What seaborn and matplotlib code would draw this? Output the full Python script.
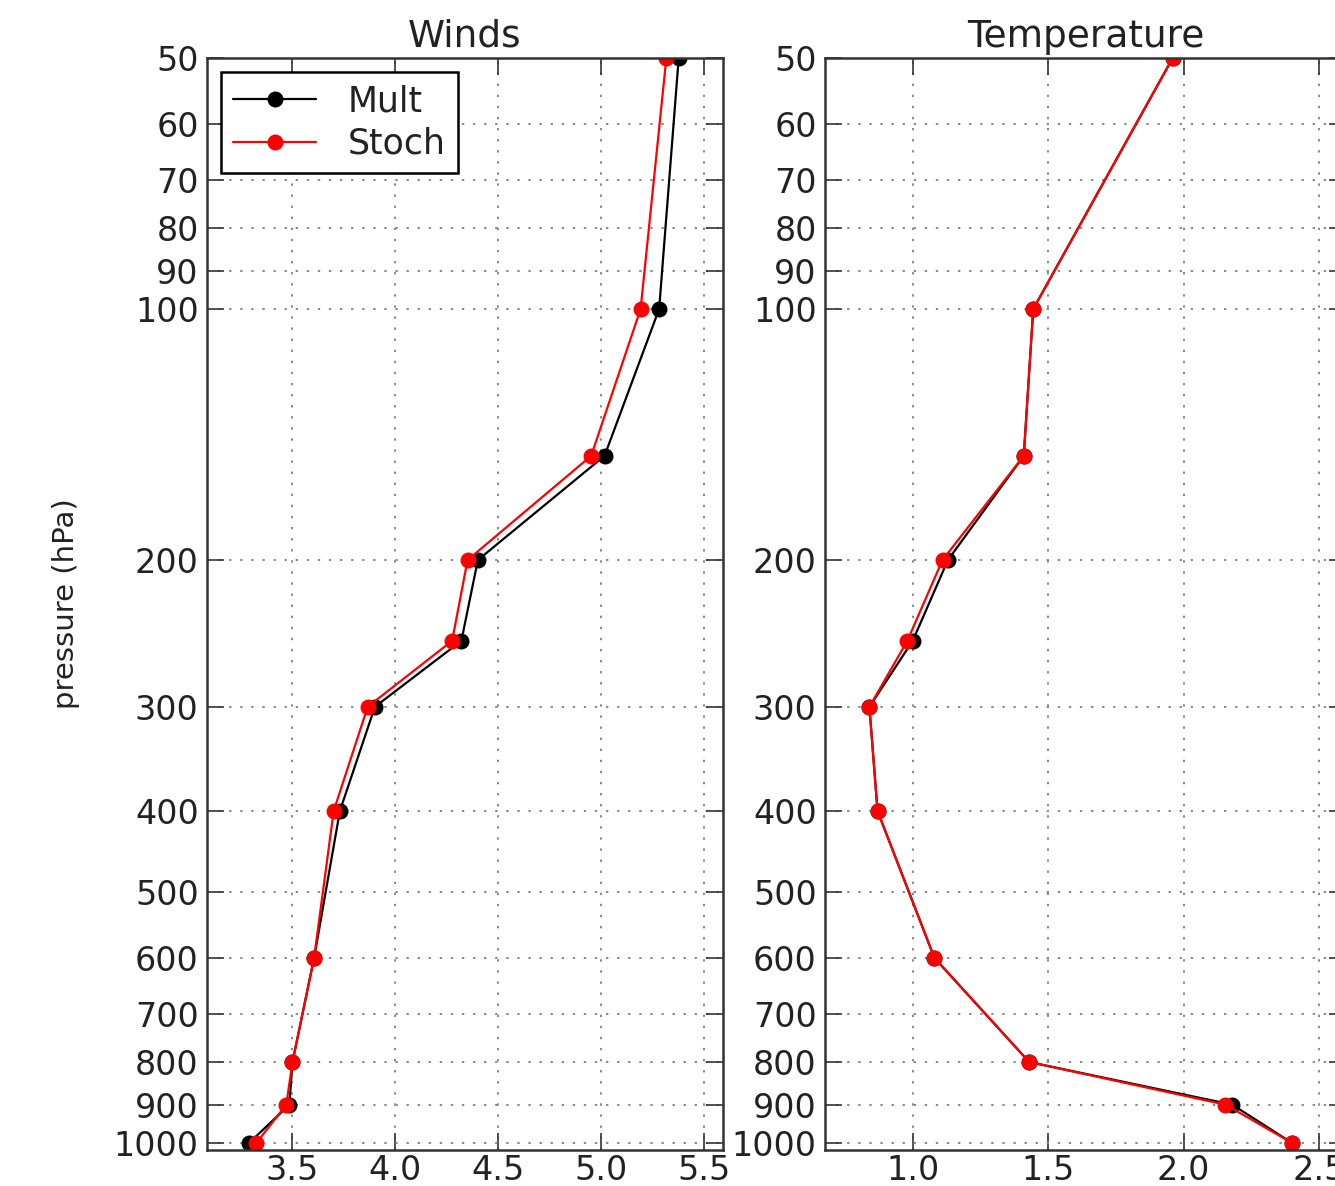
import matplotlib
matplotlib.use("Agg")
import matplotlib.pyplot as plt
from matplotlib.lines import Line2D
from matplotlib.ticker import FixedLocator, FixedFormatter, NullLocator
import seaborn as sns
import pandas as pd

sns.set_style("white")
plt.rcParams["font.family"] = ["DejaVu Sans"]

# pressure levels (hPa)
LEVELS = [50, 100, 150, 200, 250, 300, 400, 600, 800, 900, 1000]

# Winds
wind_mult = [5.375, 5.28, 5.015, 4.40, 4.32, 3.90, 3.73, 3.605, 3.50, 3.485, 3.29]
wind_stoch = [5.315, 5.19, 4.95, 4.35, 4.275, 3.865, 3.70, 3.605, 3.50, 3.47, 3.325]

# Temperature
temp_mult = [1.96, 1.445, 1.41, 1.13, 1.00, 0.84, 0.87, 1.08, 1.43, 2.18, 2.40]
temp_stoch = [1.96, 1.445, 1.41, 1.11, 0.98, 0.84, 0.87, 1.08, 1.43, 2.155, 2.40]

YTICKS = [50, 60, 70, 80, 90, 100, 200, 300, 400, 500, 600, 700, 800, 900, 1000]
RUNS = ["Mult", "Stoch"]
COLORS = {"Mult": "black", "Stoch": "red"}


def _frame(mult, stoch):
    return pd.DataFrame({
        "pressure": LEVELS * 2,
        "value": list(mult) + list(stoch),
        "run": ["Mult"] * len(LEVELS) + ["Stoch"] * len(LEVELS),
    })


def _panel(ax, df, title, xlim, xticks):
    sns.lineplot(
        data=df, x="value", y="pressure", hue="run", hue_order=RUNS,
        palette=COLORS, marker="o", markersize=11.5, markeredgewidth=0,
        lw=1.6, orient="y", sort=False, legend=False, ax=ax,
    )
    ax.set_yscale("log")
    ax.set_ylim(1020, 50)
    ax.set_xlim(*xlim)
    ax.yaxis.set_major_locator(FixedLocator(YTICKS))
    ax.yaxis.set_major_formatter(FixedFormatter([str(t) for t in YTICKS]))
    ax.yaxis.set_minor_locator(NullLocator())
    ax.set_xticks(xticks)
    ax.set_xticklabels([f"{t:.1f}" for t in xticks])
    ax.tick_params(direction="in", length=12, width=1.2, labelsize=24,
                   top=True, right=True, bottom=True, left=True, pad=6,
                   colors="#333333", labelcolor="#222222")
    ax.tick_params(axis="x", pad=3)
    ax.grid(True, linestyle=(0, (1.2, 4.5)), color="#888888", lw=1.4)
    for s in ax.spines.values():
        s.set_color("#333333")
        s.set_linewidth(1.8)
    ax.set_title(title, fontsize=27, pad=8, color="#222222")
    ax.set_xlabel("")
    ax.set_ylabel("")


fig = plt.figure(figsize=(13.35, 11.86), dpi=100)
bottom = 36 / 1186
height = (1150 - 58) / 1186
ax1 = fig.add_axes([207 / 1335, bottom, (723 - 207) / 1335, height])
ax2 = fig.add_axes([825 / 1335, bottom, (1346 - 825) / 1335, height])

_panel(ax1, _frame(wind_mult, wind_stoch), "Winds", (3.085, 5.59),
       [3.5, 4.0, 4.5, 5.0, 5.5])
_panel(ax2, _frame(temp_mult, temp_stoch), "Temperature", (0.676, 2.6),
       [1.0, 1.5, 2.0, 2.5])

ax1.set_ylabel("pressure (hPa)", fontsize=21, labelpad=24, color="#222222")

legend_elements = [
    Line2D([0], [0], color="black", marker="o", markersize=11.5, lw=1.6,
           markeredgewidth=0, label="Mult"),
    Line2D([0], [0], color="red", marker="o", markersize=11.5, lw=1.6,
           markeredgewidth=0, label="Stoch"),
]
leg = ax1.legend(handles=legend_elements, loc="upper left", fontsize=25,
                 frameon=True, fancybox=False, framealpha=1, handlelength=2.4,
                 borderaxespad=0.4, borderpad=0.35, handletextpad=0.9,
                 labelspacing=0.25, labelcolor="#222222")
leg.get_frame().set_edgecolor("black")
leg.get_frame().set_linewidth(1.8)

fig.savefig("out.png", dpi=100, facecolor="white")
